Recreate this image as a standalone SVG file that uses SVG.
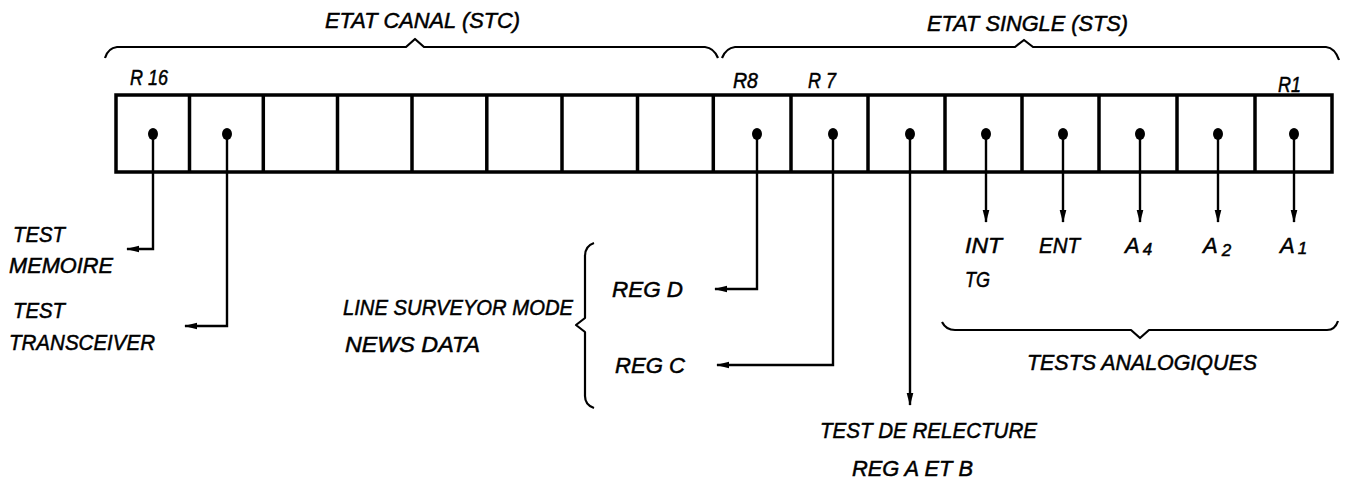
<svg xmlns="http://www.w3.org/2000/svg" width="1347" height="479" viewBox="0 0 1347 479">
<style>
.t{font-family:"Liberation Sans",Arial,sans-serif;font-style:italic;font-size:22px;fill:#000;stroke:#000;stroke-width:0.5}
.frame{fill:#fff;stroke:#000;stroke-width:3.5}
.div{stroke:#000;stroke-width:3.5}
.dot{fill:#000}
.conn{fill:none;stroke:#000;stroke-width:2.4}
.brace{fill:none;stroke:#000;stroke-width:2.2;stroke-linejoin:round}
</style>
<defs>
<marker id="ah" viewBox="0 0 13 8" refX="12" refY="4" markerWidth="13" markerHeight="8" markerUnits="userSpaceOnUse" orient="auto">
<path d="M0,0.7 L13,4 L0,7.3 z" fill="#000"/>
</marker>
</defs>
<rect width="1347" height="479" fill="#fff"/>

<g id="brace-stc">
<path class="brace" d="M105,58 Q108,48 117,47 L406,47 L415,39 L424,47 L705,47 Q714,48 718,58"/>
<text class="t" x="325" y="28" textLength="195" lengthAdjust="spacingAndGlyphs">ETAT CANAL (STC)</text>
</g>
<g id="brace-sts">
<path class="brace" d="M722,58 Q726,48 735,47 L1015,47 L1024,40 L1033,47 L1326,47 Q1335,48 1339,60"/>
<text class="t" x="927" y="31" textLength="201" lengthAdjust="spacingAndGlyphs">ETAT SINGLE (STS)</text>
</g>

<g id="register">
<rect class="frame" x="116" y="95" width="1216" height="77"/>
<g class="div">
<line x1="189.5" y1="95" x2="189.5" y2="172"/>
<line x1="263.3" y1="95" x2="263.3" y2="172"/>
<line x1="337.5" y1="95" x2="337.5" y2="172"/>
<line x1="412" y1="95" x2="412" y2="172"/>
<line x1="486.8" y1="95" x2="486.8" y2="172"/>
<line x1="562" y1="95" x2="562" y2="172"/>
<line x1="637.5" y1="95" x2="637.5" y2="172"/>
<line x1="713.3" y1="95" x2="713.3" y2="172"/>
<line x1="791" y1="95" x2="791" y2="172"/>
<line x1="868" y1="95" x2="868" y2="172"/>
<line x1="945" y1="95" x2="945" y2="172"/>
<line x1="1022" y1="95" x2="1022" y2="172"/>
<line x1="1099" y1="95" x2="1099" y2="172"/>
<line x1="1177" y1="95" x2="1177" y2="172"/>
<line x1="1255" y1="95" x2="1255" y2="172"/>
</g>
<text class="t" x="130" y="85" textLength="38" lengthAdjust="spacingAndGlyphs">R 16</text>
<text class="t" x="733" y="88" textLength="25" lengthAdjust="spacingAndGlyphs">R8</text>
<text class="t" x="808" y="88" textLength="28" lengthAdjust="spacingAndGlyphs">R 7</text>
<text class="t" x="1278" y="92" textLength="23" lengthAdjust="spacingAndGlyphs">R1</text>
</g>

<g id="connectors">
<path class="conn" d="M153,134 V249 H127" marker-end="url(#ah)"/>
<path class="conn" d="M227,134 V326 H185" marker-end="url(#ah)"/>
<path class="conn" d="M757,134 V289 H715" marker-end="url(#ah)"/>
<path class="conn" d="M833,134 V365 H717" marker-end="url(#ah)"/>
<path class="conn" d="M910,134 V405" marker-end="url(#ah)"/>
<path class="conn" d="M986,134 V222" marker-end="url(#ah)"/>
<path class="conn" d="M1063,134 V222" marker-end="url(#ah)"/>
<path class="conn" d="M1140,134 V222" marker-end="url(#ah)"/>
<path class="conn" d="M1218,134 V222" marker-end="url(#ah)"/>
<path class="conn" d="M1294,134 V222" marker-end="url(#ah)"/>
</g>

<g id="dots">
<ellipse class="dot" cx="153" cy="134" rx="5" ry="6"/>
<ellipse class="dot" cx="227" cy="134" rx="5" ry="6"/>
<ellipse class="dot" cx="757" cy="134" rx="5" ry="6"/>
<ellipse class="dot" cx="833" cy="134" rx="5" ry="6"/>
<ellipse class="dot" cx="910" cy="134" rx="5" ry="6"/>
<ellipse class="dot" cx="986" cy="134" rx="5" ry="6"/>
<ellipse class="dot" cx="1063" cy="134" rx="5" ry="6"/>
<ellipse class="dot" cx="1140" cy="134" rx="5" ry="6"/>
<ellipse class="dot" cx="1218" cy="134" rx="5" ry="6"/>
<ellipse class="dot" cx="1294" cy="134" rx="5" ry="6"/>
</g>

<g id="test-memoire">
<text class="t" x="13" y="242" textLength="52" lengthAdjust="spacingAndGlyphs">TEST</text>
<text class="t" x="9" y="273" textLength="104" lengthAdjust="spacingAndGlyphs">MEMOIRE</text>
</g>
<g id="test-transceiver">
<text class="t" x="13" y="318" textLength="52" lengthAdjust="spacingAndGlyphs">TEST</text>
<text class="t" x="9" y="350" textLength="146" lengthAdjust="spacingAndGlyphs">TRANSCEIVER</text>
</g>

<g id="mode">
<text class="t" x="343" y="315" textLength="230" lengthAdjust="spacingAndGlyphs">LINE SURVEYOR MODE</text>
<text class="t" x="345" y="352" textLength="135" lengthAdjust="spacingAndGlyphs">NEWS DATA</text>
<path class="brace" d="M594,243 Q585,246 585,256 L585,318 L576,325 L585,332 L585,396 Q585,405 594,408"/>
</g>
<g id="reg-d">
<text class="t" x="612" y="297" textLength="71" lengthAdjust="spacingAndGlyphs">REG  D</text>
</g>
<g id="reg-c">
<text class="t" x="615" y="373" textLength="70" lengthAdjust="spacingAndGlyphs">REG  C</text>
</g>

<g id="relecture">
<text class="t" x="820" y="438" textLength="217" lengthAdjust="spacingAndGlyphs">TEST DE RELECTURE</text>
<text class="t" x="852" y="476" textLength="121" lengthAdjust="spacingAndGlyphs">REG A ET B</text>
</g>

<g id="int-tg">
<text class="t" x="965" y="253" textLength="37" lengthAdjust="spacingAndGlyphs">INT</text>
<text class="t" x="965" y="287" textLength="25" lengthAdjust="spacingAndGlyphs">TG</text>
</g>
<g id="ent">
<text class="t" x="1039" y="253" textLength="41" lengthAdjust="spacingAndGlyphs">ENT</text>
</g>
<g id="a4">
<text class="t" x="1125" y="253">A<tspan font-size="17" dx="3" dy="2">4</tspan></text>
</g>
<g id="a2">
<text class="t" x="1203" y="253">A<tspan font-size="17" dx="4" dy="3">2</tspan></text>
</g>
<g id="a1">
<text class="t" x="1280" y="253">A<tspan font-size="17" dx="3" dy="1">1</tspan></text>
</g>

<g id="tests-analogiques">
<path class="brace" d="M942,322 Q946,330 955,330 L1131,330 L1140,338 L1149,330 L1327,330 Q1335,330 1338,321"/>
<text class="t" x="1027" y="370" textLength="230" lengthAdjust="spacingAndGlyphs">TESTS ANALOGIQUES</text>
</g>
</svg>
